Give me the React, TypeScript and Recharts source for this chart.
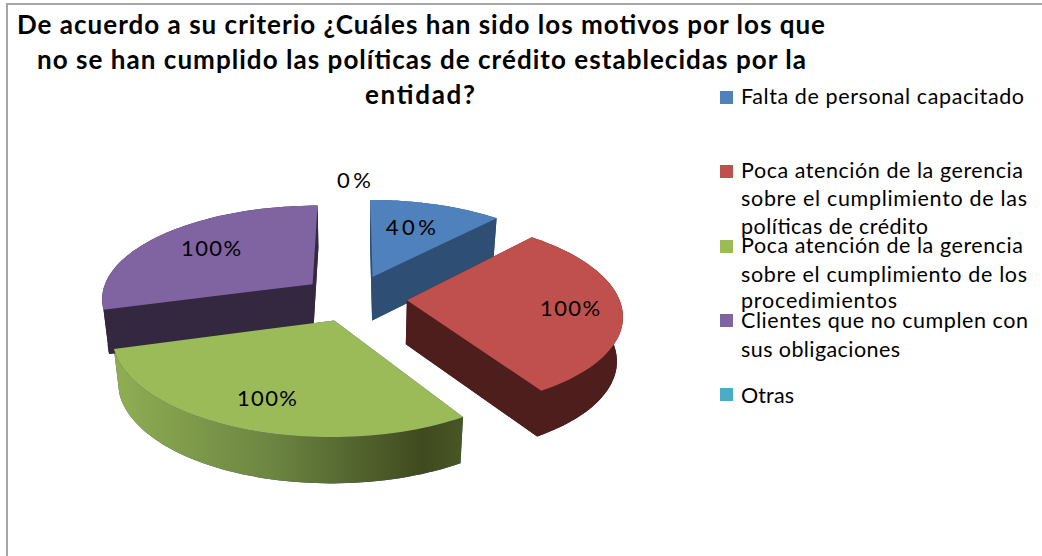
import React from 'react';
import { PieChart, Pie, Legend } from 'recharts';

const categories = [
  'Falta de personal capacitado',
  'Poca atención de la gerencia sobre el cumplimiento de las políticas de crédito',
  'Poca atención de la gerencia sobre el cumplimiento de los procedimientos',
  'Clientes que no cumplen con sus obligaciones',
  'Otras',
];
const seriesValues = [40, 100, 100, 100, 0];
const valueLabels = ['40%', '100%', '100%', '100%', '0%'];
const topColors = ['#4f81bd', '#c0504d', '#9bbb59', '#8064a2', '#4bacc6'];
const sideColors = ['#2f4e74', '#4d1e1c', '#2f4e74', '#33283f', '#2c6a7a'];
const titleLines = [
  'De acuerdo a su criterio ¿Cuáles han sido los motivos por los que',
  'no se han cumplido las políticas de crédito establecidas por la',
  'entidad?',
];
const legendLines = [
  ['Falta de personal capacitado'],
  ['Poca atención de la gerencia', 'sobre el cumplimiento de las', 'políticas de crédito'],
  ['Poca atención de la gerencia', 'sobre el cumplimiento de los', 'procedimientos'],
  ['Clientes que no cumplen con', 'sus obligaciones'],
  ['Otras'],
];

const W = 1042;
const H = 556;
const FONT = 'Lato, "Open Sans", sans-serif';
const CX = 354;
const CY = 298;
const R = 212;
const TILT = 0.44;
const PERSP = 0.14;
const DEPTH_PERSP = 0.09;
const EXPLODE = 0.25;
const DEPTH = 44;
const LOW_SCALE = 1.023;

const titleLayout = [
  { x: 17, y: 34, w: 808 },
  { x: 37, y: 69, w: 769 },
  { x: 365, y: 104, w: 110 },
];
const legendLayout = [
  { swatch: 91, rows: [{ y: 104, w: 283 }] },
  { swatch: 165, rows: [{ y: 178, w: 282 }, { y: 206, w: 286 }, { y: 234, w: 187 }] },
  { swatch: 240, rows: [{ y: 253, w: 282 }, { y: 282, w: 286 }, { y: 308, w: 156 }] },
  { swatch: 314, rows: [{ y: 328, w: 287 }, { y: 357, w: 159 }] },
  { swatch: 388, rows: [{ y: 403, w: 53 }] },
];
const labelLayout = [
  { k: 0.62, dx: -3, dy: -3, w: 50 },
  { k: 0.76, dx: 0, dy: 1, w: 60 },
  { k: 0.75, dx: 1, dy: 0, w: 60 },
  { k: 0.66, dx: 0, dy: -2, w: 60 },
  { k: 1.29, dx: 0, dy: 0, w: 34 },
];

const rad = (d: number) => (d * Math.PI) / 180;

function project(cx: number, cy: number, r: number, X: number, Y: number, low: boolean) {
  const w = 1 + PERSP * Y;
  const s = low ? LOW_SCALE : 1;
  return {
    x: cx + (r * X) / (w * s),
    y: cy - (r * TILT * Y) / (w * s) + (low ? DEPTH / (1 + DEPTH_PERSP * Y) : 0),
  };
}

function slicePoint(mid: number, a: number, k: number) {
  return {
    X: EXPLODE * Math.cos(rad(mid)) + k * Math.cos(rad(a)),
    Y: EXPLODE * Math.sin(rad(mid)) + k * Math.sin(rad(a)),
  };
}

function arc(p: any, low: boolean) {
  const { cx, cy, outerRadius, startAngle, endAngle } = p;
  const mid = (startAngle + endAngle) / 2;
  const n = 60;
  const out = [];
  for (let i = 0; i <= n; i++) {
    const a = startAngle + ((endAngle - startAngle) * i) / n;
    const q = slicePoint(mid, a, 1);
    out.push(project(cx, cy, outerRadius, q.X, q.Y, low));
  }
  return out;
}

function apex(p: any, low: boolean) {
  const mid = (p.startAngle + p.endAngle) / 2;
  const q = slicePoint(mid, mid, 0);
  return project(p.cx, p.cy, p.outerRadius, q.X, q.Y, low);
}

const pts = (list: { x: number; y: number }[]) =>
  list.map((v) => `${v.x.toFixed(1)},${v.y.toFixed(1)}`).join(' ');

function SideShape(p: any) {
  if (Math.abs(p.endAngle - p.startAngle) < 0.01) return <g />;
  const top = arc(p, false);
  const low = arc(p, true);
  const a0 = apex(p, false);
  const a1 = apex(p, true);
  const dark = p.side;
  const isGreen = p.rimGradient;
  return (
    <g>
      {isGreen ? (
        <defs>
          <linearGradient id="rimShade" gradientUnits="userSpaceOnUse" x1={115} y1={0} x2={465} y2={0}>
            <stop offset="0" stopColor="#8fae53" />
            <stop offset="0.45" stopColor="#6c8541" />
            <stop offset="0.88" stopColor="#3f4a1f" />
            <stop offset="1" stopColor="#4a5726" />
          </linearGradient>
        </defs>
      ) : null}
      <polygon points={pts([a1, ...low])} fill={dark} />
      <polygon points={pts([a0, top[0], low[0], a1])} fill={dark} />
      <polygon points={pts([a0, top[top.length - 1], low[low.length - 1], a1])} fill={dark} />
      <polygon points={pts([...top, ...[...low].reverse()])} fill={isGreen ? 'url(#rimShade)' : dark} />
    </g>
  );
}

function TopShape(p: any) {
  if (Math.abs(p.endAngle - p.startAngle) < 0.01) return <g />;
  return <polygon points={pts([apex(p, false), ...arc(p, false)])} fill={p.fill} />;
}

function renderLabel(p: any) {
  const { cx, cy, outerRadius, midAngle, index } = p;
  const layout = labelLayout[index];
  const q = slicePoint(midAngle, midAngle, layout.k);
  const v = project(cx, cy, outerRadius, q.X, q.Y, false);
  return (
    <text
      x={v.x + layout.dx}
      y={v.y + 8 + layout.dy}
      textAnchor="middle"
      fontFamily={FONT}
      fontSize={22}
      fill="#000"
      textLength={layout.w}
      lengthAdjust="spacing"
    >
      {valueLabels[index]}
    </text>
  );
}

function renderLegend() {
  return (
    <svg width={W} height={H} style={{ position: 'absolute', left: 0, top: 0 }}>
      {legendLines.map((rows, i) => (
        <g key={categories[i]}>
          <rect x={720} y={legendLayout[i].swatch} width={13} height={13} fill={topColors[i]} />
          {rows.map((row, j) => (
            <text
              key={row}
              x={741}
              y={legendLayout[i].rows[j].y}
              fontFamily={FONT}
              fontSize={21.5}
              fill="#000"
              textLength={legendLayout[i].rows[j].w}
              lengthAdjust="spacing"
            >
              {row}
            </text>
          ))}
        </g>
      ))}
    </svg>
  );
}

const tableData = categories.map((name, i) => ({
  name,
  value: seriesValues[i],
  fill: topColors[i],
  side: sideColors[i],
  rimGradient: i === 2,
}));

export default function App() {
  return (
    <div style={{ position: 'absolute', left: 0, top: 0, width: W, height: H, overflow: 'hidden', background: '#fff' }}>
      <div
        style={{
          position: 'absolute',
          left: 6,
          top: 3,
          width: W + 20,
          height: H + 20,
          borderLeft: '2px solid #a6a6a6',
          borderTop: '2px solid #a6a6a6',
        }}
      />
      <PieChart width={W} height={H} margin={{ top: 0, right: 0, bottom: 0, left: 0 }} style={{ position: 'absolute', left: 0, top: 0 }}>
        <Pie
          data={tableData}
          dataKey="value"
          nameKey="name"
          cx={CX}
          cy={CY}
          outerRadius={R}
          innerRadius={0}
          startAngle={90}
          endAngle={-270}
          stroke="none"
          legendType="none"
          isAnimationActive={false}
          shape={SideShape}
          rootTabIndex={-1}
        />
        <Pie
          data={tableData}
          dataKey="value"
          nameKey="name"
          cx={CX}
          cy={CY}
          outerRadius={R}
          innerRadius={0}
          startAngle={90}
          endAngle={-270}
          stroke="none"
          isAnimationActive={false}
          shape={TopShape}
          label={renderLabel}
          labelLine={false}
          rootTabIndex={-1}
        />
        <Legend content={renderLegend} wrapperStyle={{ left: 0, top: 0, width: W, height: H, pointerEvents: 'none' }} />
        {titleLines.map((line, i) => (
          <text
            key={line}
            x={titleLayout[i].x}
            y={titleLayout[i].y}
            fontFamily={FONT}
            fontWeight={700}
            fontSize={26}
            fill="#000"
            textLength={titleLayout[i].w}
            lengthAdjust="spacing"
          >
            {line}
          </text>
        ))}
      </PieChart>
    </div>
  );
}
